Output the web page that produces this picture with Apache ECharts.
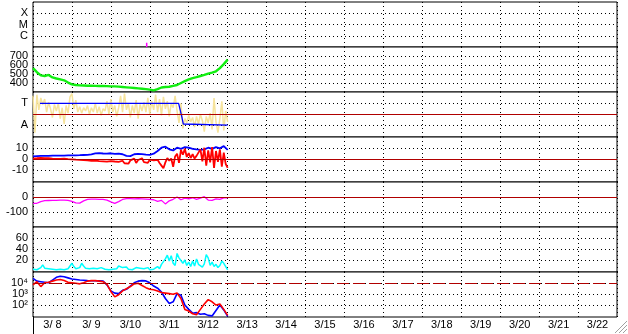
<!DOCTYPE html>
<html>
<head>
<meta charset="utf-8">
<script src="https://cdn.jsdelivr.net/npm/echarts@6/dist/echarts.min.js"></script>
<style>
html, body { margin: 0; padding: 0; background: #fff; }
#chart { width: 628px; height: 334px; }
</style>
</head>
<body>
<div id="chart"></div>
<script>
// x labels, one per day
var dayLabels = ['3/ 8', '3/ 9', '3/10', '3/11', '3/12', '3/13', '3/14', '3/15',
                 '3/16', '3/17', '3/18', '3/19', '3/20', '3/21', '3/22'];

// sample times, in days from 3/8 00:00
var coarseDays = [0, 0.1, 0.2, 0.3, 0.4, 0.5, 0.6, 0.7, 0.8, 0.9,
  1, 1.1, 1.2, 1.3, 1.4, 1.5, 1.6, 1.7, 1.8, 1.9,
  2, 2.1, 2.2, 2.3, 2.4, 2.5, 2.6, 2.7, 2.8, 2.9,
  3, 3.1, 3.2, 3.3, 3.4, 3.5, 3.6, 3.7, 3.8, 3.9,
  4, 4.1, 4.2, 4.3, 4.4, 4.5, 4.6, 4.7, 4.8, 4.9, 5];
var fineDays = [0, 0.05, 0.1, 0.15, 0.2, 0.25, 0.3, 0.35, 0.4, 0.45,
  0.5, 0.55, 0.6, 0.65, 0.7, 0.75, 0.8, 0.85, 0.9, 0.95,
  1, 1.05, 1.1, 1.15, 1.2, 1.25, 1.3, 1.35, 1.4, 1.45,
  1.5, 1.55, 1.6, 1.65, 1.7, 1.75, 1.8, 1.85, 1.9, 1.95,
  2, 2.05, 2.1, 2.15, 2.2, 2.25, 2.3, 2.35, 2.4, 2.45,
  2.5, 2.55, 2.6, 2.65, 2.7, 2.75, 2.8, 2.85, 2.9, 2.95,
  3, 3.05, 3.1, 3.15, 3.2, 3.25, 3.3, 3.35, 3.4, 3.45,
  3.5, 3.55, 3.6, 3.65, 3.7, 3.75, 3.8, 3.85, 3.9, 3.95,
  4, 4.05, 4.1, 4.15, 4.2, 4.25, 4.3, 4.35, 4.4, 4.45,
  4.5, 4.55, 4.6, 4.65, 4.7, 4.75, 4.8, 4.85, 4.9, 4.95, 5];

// panel 1 : class marks (C=1, M=2, X=3)
var classNames = ['C', 'M', 'X'];
var classTicks = [1, 2, 3];
var classEvent = [[2.92, 0], [2.92, 0.38]];

// panel 2 : green
var greenTicks = [400, 500, 600, 700];
var greenVals = [565, 520, 485, 478, 490, 462, 450, 440, 430, 405,
  385, 378, 374, 372, 370, 369, 368, 367, 366, 365,
  363, 362, 360, 356, 352, 348, 344, 340, 336, 332,
  326, 318, 332, 350, 355, 358, 368, 378, 400, 420,
  440, 455, 465, 478, 490, 505, 515, 530, 565, 610, 660];

// panel 3 : T / A (A=0, T=2)
var stateNames = ['A', 'T'];
var stateTicks = [0, 2];
var stateMid = 1;
var yellowVals = [2.7, -0.7, 2.8, 1.4, 2.5, 1.9, 2.4, 1.2, 2.1, 1.5,
  0.7, 1.9, 1.3, 2.0, 0.6, 1.6, 0.1, 1.8, 1.1, 2.6,
  2.9, 1.5, 2.3, 1.2, 1.7, 1.1, 1.6, 1.3, 1.8, 1.0,
  1.6, 1.2, 2.0, 1.1, 1.7, 0.9, 1.5, 1.3, 2.2, 1.0,
  2.4, 1.2, 1.8, 0.8, 1.6, 2.7, 1.2, 2.9, 1.4, 2.0,
  0.7, 1.8, 1.1, 2.3, 0.6, 1.9, 1.3, 2.1, 1.2, 2.5,
  1.0, 2.2, 1.4, 2.8, 1.2, 2.4, 0.9, 2.6, 1.5, 2.2,
  0.8, 2.0, 1.6, 2.7, 1.3, 0.2, 2.0, -0.3, 0.6, 0.2,
  0.9, 0.3, 0.7, -0.2, 0.8, 0.1, 1.0, 0.4, -0.6, 0.8,
  0.2, 1.1, -0.4, 2.5, 0.3, -0.7, 0.6, 2.2, -0.5, 1.3, 0.3];
var stateStep = [[0.18, 2], [3.74, 2], [3.78, 1.4], [3.82, 0.8], [3.86, 0.1], [3.88, 0], [5.0, 0]];

// panel 4 : blue / red around zero
var diffTicks = [-10, 0, 10];
var diffBlue = [2.5, 2.8, 3.0, 3.0, 3.0, 3.2, 3.2, 3.3, 3.3, 3.4,
  3.4, 3.5, 3.6, 3.8, 4.0, 4.4, 5.3, 5.6, 5.2, 5.0,
  5.4, 4.8, 5.0, 4.5, 3.0, 2.8, 4.5, 4.8, 4.6, 4.2,
  4.0, 5.0, 7.5, 10.5, 11.5, 9.0, 8.0, 10.5, 9.5, 11.0,
  10.5, 9.5, 9.0, 8.6, 9.0, 10.5, 9.5, 11.0, 10.0, 12.0, 8.5];
var diffRed = [0.5, 1.5, 0.8, 2.0, 1.2, 0.6, 1.0, 0.4, 0.8, 0.2,
  0.5, -0.3, 0.3, -0.5, 0.2, -0.4, 0.4, -0.6, 0.0, -0.8,
  -0.2, 0.3, -0.5, 0.1, -0.7, -0.2, -1.0, -0.4, -1.2, -0.6,
  -1.5, -2.2, -1.4, -2.8, -1.8, -3.0, -2.0, -3.5, -2.4, -3.2,
  -1.8, -3.6, -2.2, -4.0, -2.5, -3.2, -1.5, -3.8, -2.0, -4.2,
  -1.2, -3.0, 0.5, -3.5, -0.8, -2.6, 0.8, -2.8, -1.0, -3.4,
  -0.5, -2.2, -1.2, -2.8, -0.6, -3.5, -6.0, -8.5, -3.0, 1.0,
  -1.5, 0.5, -7.0, 2.5, 5.0, -3.5, 8.5, 4.0, 9.5, 2.0,
  5.5, 1.0, 4.5, 0.5, 3.0, 1.5, 9.0, -2.0, 10.5, -6.0,
  8.0, -3.0, 11.0, -8.0, 7.5, -2.5, 9.0, -7.0, 6.0, -4.5, -8.0];

// panel 5 : magenta
var magTicks = [-100, 0];
var magVals = [-42, -41, -30, -24, -23, -22, -22, -21, -20, -22,
  -28, -38, -40, -25, -15, -14, -14, -15, -16, -20,
  -32, -42, -30, -16, -10, -10, -12, -10, -12, -14,
  -16, -18, -28, -22, -45, -25, -15, 0, -18, -8,
  -12, -5, -15, -8, 2, -20, -22, -12, -15, -6, -5];

// panel 6 : cyan
var cyanTicks = [20, 40, 60];
var cyanVals = [3, 5, 2, 4, 6, 11, 5, 3, 4, 2,
  3, 5, 2, 4, 3, 6, 2, 5, 4, 7,
  14, 8, 4, 3, 6, 14, 9, 5, 3, 4,
  2, 5, 3, 4, 2, 6, 4, 3, 5, 2,
  4, 3, 6, 4, 9, 11, 6, 4, 7, 3,
  5, 2, 4, 6, 3, 5, 2, 4, 3, 6,
  2, 4, 3, 5, 8, 4, 12, 9, 22, 29,
  18, 28, 14, 10, 32, 24, 26, 14, 20, 10,
  16, 8, 18, 9, 22, 12, 15, 7, 13, 30,
  24, 10, 16, 8, 12, 6, 10, 18, 14, 8, 2];

// panel 7 : counts, log10
var logTicks = [2, 3, 4];
var logNames = ['10²', '10³', '10⁴'];
var logLimit = 4;
var logBlue = [4.45, 4.2, 4.15, 4.1, 4.05, 4.3, 4.55, 4.65, 4.6, 4.5,
  4.4, 4.35, 4.3, 4.28, 4.25, 4.24, 4.24, 4.22, 4.2, 3.85,
  3.3, 3.1, 3.05, 3.35, 3.45, 3.75, 4.05, 4.2, 4.25, 4.22,
  4.05, 3.75, 3.55, 3.2, 2.6, 2.15, 2.3, 3.05, 2.9, 2.0,
  1.6, 1.25, 1.3, 1.15, 1.2, 1.05, 1.0, 1.5, 2.0, 1.55, 0.95];
var logRed = [3.85, 4.15, 3.7, 4.05, 4.1, 4.2, 4.3, 4.35, 4.25, 4.1,
  4.05, 4.0, 3.95, 4.05, 4.2, 4.25, 4.25, 4.2, 4.15, 3.9,
  3.25, 2.75, 2.95, 3.3, 3.5, 3.7, 3.95, 4.0, 3.8, 3.6,
  3.45, 3.4, 3.3, 3.15, 3.1, 3.05, 3.0, 3.1, 2.6, 1.6,
  1.45, 1.2, 1.1, 1.6, 2.1, 2.5, 2.3, 2.0, 2.1, 1.6, 1.05];

function zip(xs, ys) {
  return ys.map(function (v, i) { return [xs[i], v]; });
}

var chart = echarts.init(document.getElementById('chart'));
var FONT = 'Liberation Sans, Arial, sans-serif';
var REF = '#b00000';
var dotted = { color: '#000', width: 1, type: [1, 3] };

// y ranges picked so the tick rows land where the reference has them
var panels = [
  { min: 0, max: 4, ticks: classTicks, fmt: function (v) { return classNames[v - 1]; } },
  { min: 300, max: 800, ticks: greenTicks },
  { min: -1.1, max: 3.05, ticks: stateTicks, fmt: function (v) { return stateNames[v / 2]; } },
  { min: -21.1, max: 20.4, ticks: diffTicks },
  { min: -196, max: 98, ticks: magTicks },
  { min: -2.1, max: 80.8, ticks: cyanTicks },
  { min: 0.9, max: 5.04, ticks: logTicks, fmt: function (v) { return logNames[v - 2]; } }
];

// each panel gets two y axes: alternate ticks go on each, so the packed
// labels are never dropped as overlapping
var grids = [], xAxes = [], yAxes = [];
panels.forEach(function (p, i) {
  grids.push({ left: 33, width: 584, top: 2 + i * 45, height: 45,
    show: true, borderColor: '#000', borderWidth: 1, backgroundColor: '#fff' });
  xAxes.push({ type: 'value', gridIndex: i, min: 0, max: 15, interval: 1,
    axisLine: { show: false }, axisTick: { show: false }, axisLabel: { show: false },
    splitLine: { show: true, lineStyle: dotted } });
  [0, 1].forEach(function (half) {
    var ticks = p.ticks.filter(function (t, k) { return k % 2 === half; });
    yAxes.push({ type: 'value', gridIndex: i, min: p.min, max: p.max, position: 'left',
      axisLine: { show: false },
      axisTick: { show: false, customValues: ticks },
      axisLabel: { customValues: ticks, color: '#000', fontFamily: FONT, fontSize: 11, margin: 5,
        formatter: p.fmt || function (v) { return String(v); } },
      splitLine: { show: true, lineStyle: dotted } });
  });
});
// day labels centred in each day band
xAxes.push({ type: 'category', gridIndex: 6, data: dayLabels, boundaryGap: true, position: 'bottom',
  axisLine: { show: false }, axisTick: { show: false }, splitLine: { show: false },
  axisLabel: { color: '#000', fontFamily: FONT, fontSize: 11, margin: 2, interval: 0 } });

function line(gi, data, color, width, extra) {
  var s = { type: 'line', xAxisIndex: gi, yAxisIndex: gi * 2, data: data, showSymbol: false,
    symbol: 'none', lineStyle: { color: color, width: width }, itemStyle: { color: color },
    animation: false, silent: true };
  return Object.assign(s, extra || {});
}
function refLine(value, type) {
  return { symbol: ['none', 'none'], silent: true, animation: false, label: { show: false },
    lineStyle: { color: REF, width: 1, type: type || 'solid' }, data: [{ yAxis: value }] };
}

var series = [
  line(0, classEvent, '#ff00ff', 1.5),
  line(1, zip(coarseDays, greenVals), '#11ee11', 2.4),
  line(2, zip(fineDays, yellowVals), '#f6e39c', 1.5),
  line(2, stateStep, '#0000ff', 1.3, { markLine: refLine(stateMid) }),
  line(3, zip(coarseDays, diffBlue), '#0000ff', 1.8),
  line(3, zip(fineDays, diffRed), '#ff0000', 1.8, { markLine: refLine(0) }),
  line(4, zip(coarseDays, magVals), '#ff00ff', 1.3, { markLine: refLine(0) }),
  line(5, zip(fineDays, cyanVals), '#00ffff', 1.5),
  line(6, zip(coarseDays, logBlue), '#0000ff', 1.6),
  line(6, zip(coarseDays, logRed), '#ff0000', 1.6, { markLine: refLine(logLimit, [12, 4]) })
];

// window size grip in the bottom-right corner
var grip = [];
[4, 8, 12].forEach(function (d) {
  grip.push({ type: 'line', shape: { x1: 627 - d, y1: 333, x2: 627, y2: 333 - d },
    style: { stroke: '#a0a0a0', lineWidth: 1 } });
  grip.push({ type: 'line', shape: { x1: 628 - d, y1: 334, x2: 628, y2: 334 - d },
    style: { stroke: '#ffffff', lineWidth: 1 } });
});

chart.setOption({
  animation: false,
  backgroundColor: '#fff',
  grid: grids,
  xAxis: xAxes,
  yAxis: yAxes,
  series: series,
  graphic: [
    { type: 'line', shape: { x1: 33.5, y1: 317, x2: 33.5, y2: 334 }, style: { stroke: '#000', lineWidth: 1 } }
  ].concat(grip)
});
</script>
</body>
</html>
